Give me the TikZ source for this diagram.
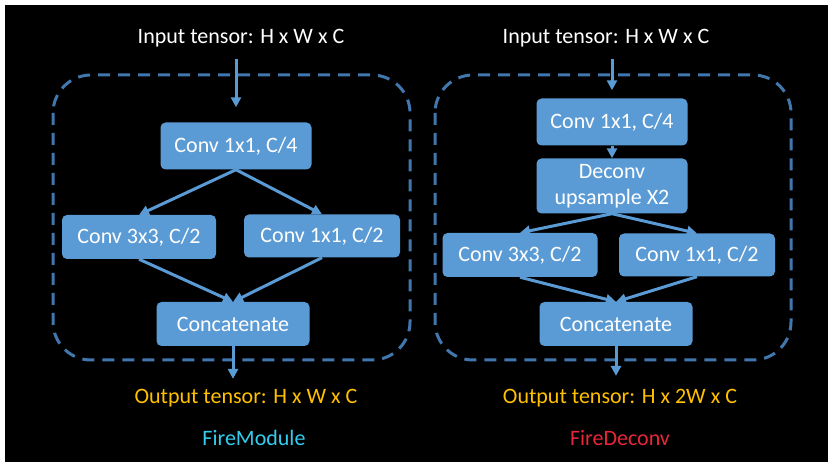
\documentclass[tikz,border=0pt]{standalone}
\usepackage{fontspec}
\setmainfont{Carlito}
\usetikzlibrary{arrows.meta}
\definecolor{boxblue}{HTML}{5B9BD5}
\definecolor{dashblue}{HTML}{4277AE}
\definecolor{outyellow}{HTML}{FFC000}
\definecolor{firecyan}{HTML}{33CCEE}
\definecolor{firered}{HTML}{E8263A}
\begin{document}
\begin{tikzpicture}[x=1pt,y=-1pt,
  blk/.style={fill=boxblue, rounded corners=5pt, text=white, font=\fontsize{22}{26}\selectfont, inner sep=0pt, align=center},
  lbl/.style={font=\fontsize{22}{26}\selectfont, inner sep=0pt},
  arr/.style={draw=boxblue, line width=3pt, -{Triangle[width=10pt,length=10pt]}},
  frame/.style={draw=dashblue, line width=3pt, dash pattern=on 12pt off 8pt, rounded corners=38pt}]
\useasboundingbox (0,0) rectangle (828,462);
\fill[white] (0,0) rectangle (828,462);
\fill[black] (5,5) rectangle (828,462);

% ---------- FireModule ----------
\draw[frame] (53,75) rectangle (410,360);
\node[blk, minimum width=151pt, minimum height=47pt] (Lc14) at (236,146) {Conv 1x1, C/4};
\node[blk, minimum width=154pt, minimum height=44pt] (Lc33) at (139,237) {Conv 3x3, C/2};
\node[blk, minimum width=156pt, minimum height=43pt] (Lc11) at (322,236) {Conv 1x1, C/2};
\node[blk, minimum width=153pt, minimum height=44pt] (Lcat) at (233,324) {Concatenate};
\node[lbl, text=white] (Lin) at (241,38) {Input tensor: H x W x C};
\node[lbl, text=outyellow] (Lout) at (246,398) {Output tensor: H x W x C};
\node[lbl, text=firecyan] (Lname) at (254,438) {FireModule};

\draw[arr, shorten <=12pt, shorten >=15pt] (Lc14.north |- Lin.south) -- (Lc14.north);
\draw[arr] (Lc14.south) -- (Lc33.north);
\draw[arr] (Lc14.south) -- (Lc11.north);
\draw[arr] (Lc33.south) -- (Lcat.north);
\draw[arr] (Lc11.south) -- (Lcat.north);
\draw[arr, shorten >=10pt] (Lcat.south) -- (Lcat.south |- Lout.north);

% ---------- FireDeconv ----------
\draw[frame] (435,75) rectangle (791,360);
\node[blk, minimum width=151pt, minimum height=47pt] (Rc14) at (612,122) {Conv 1x1, C/4};
\node[blk, minimum width=151pt, minimum height=55pt] (Rdec) at (612,186) {Deconv\\upsample X2};
\node[blk, minimum width=155pt, minimum height=44pt] (Rc33) at (520,255) {Conv 3x3, C/2};
\node[blk, minimum width=156pt, minimum height=43pt] (Rc11) at (697,255) {Conv 1x1, C/2};
\node[blk, minimum width=153pt, minimum height=44pt] (Rcat) at (616,324) {Concatenate};
\node[lbl, text=white] (Rin) at (606,38) {Input tensor: H x W x C};
\node[lbl, text=outyellow] (Rout) at (620,398) {Output tensor: H x 2W x C};
\node[lbl, text=firered] (Rname) at (620,438) {FireDeconv};

\draw[arr, shorten <=12pt, shorten >=8pt] (Rc14.north |- Rin.south) -- (Rc14.north);
\draw[arr] (Rc14.south) -- (Rdec.north);
\draw[arr] (Rdec.south) -- (Rc33.north);
\draw[arr] (Rdec.south) -- (Rc11.north);
\draw[arr] (Rc33.south) -- (Rcat.north);
\draw[arr] (Rc11.south) -- (Rcat.north);
\draw[arr, shorten >=13pt] (Rcat.south) -- (Rcat.south |- Rout.north);
\end{tikzpicture}
\end{document}
